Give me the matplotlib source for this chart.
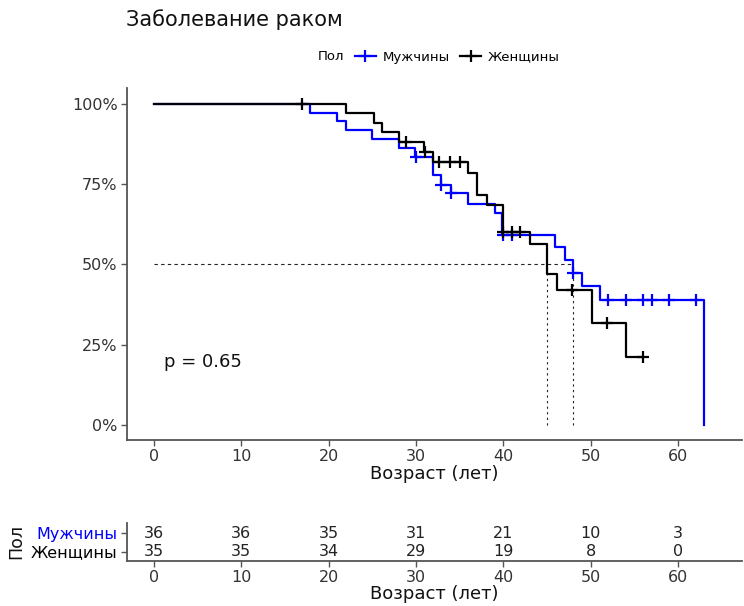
import numpy as np
import matplotlib
matplotlib.use("Agg")
import matplotlib.pyplot as plt
from matplotlib.lines import Line2D

plt.rcParams['font.family'] = ['DejaVu Sans']

# --- данные ---
groups = ['Мужчины', 'Женщины']
colors = ['#0000FF', '#000000']

# Мужчины: ступеньки кривой выживаемости (возраст, %)
men_t = [0, 17.9, 21.0, 22.0, 25.0, 28.0, 29.9, 32.0, 32.9, 34.0, 36.0, 39.0, 39.8,
         45.9, 47.1, 48.0, 49.0, 51.0, 63.0]
men_s = [100, 97.1, 94.7, 91.9, 89.1, 86.2, 83.6, 77.8, 74.8, 72.2, 68.8, 66.1, 59.3,
         55.3, 51.4, 47.3, 43.3, 39.0, 0]
men_cens = [30.0, 32.9, 34.0, 40.0, 41.0, 48.0, 52.0, 54.0, 56.0, 57.0, 59.0, 62.0]

# Женщины
women_t = [0, 22.0, 25.2, 26.1, 28.1, 30.9, 32.0, 36.0, 37.0, 38.1, 40.0, 43.1,
           45.0, 46.1, 50.1, 54.0, 56.0]
women_s = [100, 97.1, 94.1, 91.2, 88.2, 85.2, 82.0, 78.4, 71.7, 68.5, 60.2, 56.3,
           46.9, 42.1, 31.9, 21.3, 21.3]
women_cens = [17.0, 28.9, 31.0, 32.6, 33.9, 35.0, 40.0, 41.0, 41.9, 47.9, 51.9, 56.0]

risk_times = [0, 10, 20, 30, 40, 50, 60]
men_risk = [36, 36, 35, 31, 21, 10, 3]
women_risk = [35, 35, 34, 29, 19, 8, 0]

p_text = 'p = 0.65'


def surv_at(t, times, surv):
    idx = np.searchsorted(times, t, side='right') - 1
    return np.array(surv)[idx]


def median_of(times, surv):
    for t, s in zip(times, surv):
        if s <= 50:
            return t
    return None


W, H = 744, 606
fig = plt.figure(figsize=(W / 100, H / 100), dpi=100)

xlim = (-3.1, 67.3)
axis_col = '#555555'
tick_col = '#333333'

# --- основной график ---
ax = fig.add_axes([126.7 / W, 1 - 440 / H, (742 - 126.7) / W, (440 - 88) / H])

curves = [(men_t, men_s, men_cens), (women_t, women_s, women_cens)]
for (t, s, c), col in zip(curves, colors):
    ax.step(t, s, where='post', color=col, lw=1.6, zorder=3)
    ax.plot(c, surv_at(c, t, s), ls='none', marker='+', ms=8, mew=1.6,
            color=col, zorder=4)

# медианы
meds = [median_of(men_t, men_s), median_of(women_t, women_s)]
ax.plot([0, max(meds)], [50, 50], ls=(0, (3, 3)), color='#222222', lw=0.8, zorder=2)
for m in meds:
    ax.plot([m, m], [0, 50], ls=(0, (2, 3)), color='#222222', lw=0.8, zorder=2)

ax.text(1.2, 19.6, p_text, fontsize=13, va='center', ha='left', color='#111111')

ax.set_xlim(*xlim)
ax.set_ylim(-4.7, 105)
ax.set_xticks(risk_times)
ax.set_yticks([0, 25, 50, 75, 100])
ax.set_yticklabels(['0%', '25%', '50%', '75%', '100%'])
ax.tick_params(labelsize=11.5, colors=axis_col, labelcolor=tick_col, length=4,
               width=1, pad=2.5)
ax.set_xlabel('Возраст (лет)', fontsize=13, color='#111111', labelpad=0.5)
for side in ['top', 'right']:
    ax.spines[side].set_visible(False)
for side in ['left', 'bottom']:
    ax.spines[side].set_color(axis_col)
    ax.spines[side].set_linewidth(1.3)

fig.text(126 / W, 1 - 20 / H, 'Заболевание раком', fontsize=15, va='center',
         ha='left', color='#111111')

# легенда
fig.text(318 / W, 1 - 57 / H, 'Пол', fontsize=9.5, va='center', ha='left')
handles = [Line2D([], [], color=col, lw=1.6, marker='+', ms=8, mew=1.6) for col in colors]
fig.legend(handles, groups, loc='center left', bbox_to_anchor=(348 / W, 1 - 57 / H),
           ncol=2, frameon=False, fontsize=9.5, handlelength=1.6, handletextpad=0.5,
           columnspacing=0.8, borderpad=0)

# --- таблица числа под риском ---
tab = fig.add_axes([126.7 / W, 1 - 560.7 / H, (742 - 126.7) / W, (560.7 - 522.7) / H])
rows = [men_risk, women_risk]
ypos = [2, 1]
for vals, y in zip(rows, ypos):
    for t, v in zip(risk_times, vals):
        tab.text(t, y, str(v), ha='center', va='center', fontsize=11.5, color='#222222')
tab.set_xlim(*xlim)
tab.set_ylim(0.5, 2.58)
tab.set_xticks(risk_times)
tab.set_yticks(ypos)
tab.set_yticklabels(groups)
tab.tick_params(labelsize=11.5, colors=axis_col, length=4, width=1, pad=2.5)
tab.tick_params(axis='x', labelcolor=tick_col)
for lbl, col in zip(tab.get_yticklabels(), colors):
    lbl.set_color(col)
tab.set_xlabel('Возраст (лет)', fontsize=13, color='#111111', labelpad=0.5)
tab.set_ylabel('Пол', fontsize=12.5, color='#111111', labelpad=4)
for side in ['top', 'right']:
    tab.spines[side].set_visible(False)
for side in ['left', 'bottom']:
    tab.spines[side].set_color(axis_col)
    tab.spines[side].set_linewidth(1.3)

fig.savefig('out.png', dpi=100)
